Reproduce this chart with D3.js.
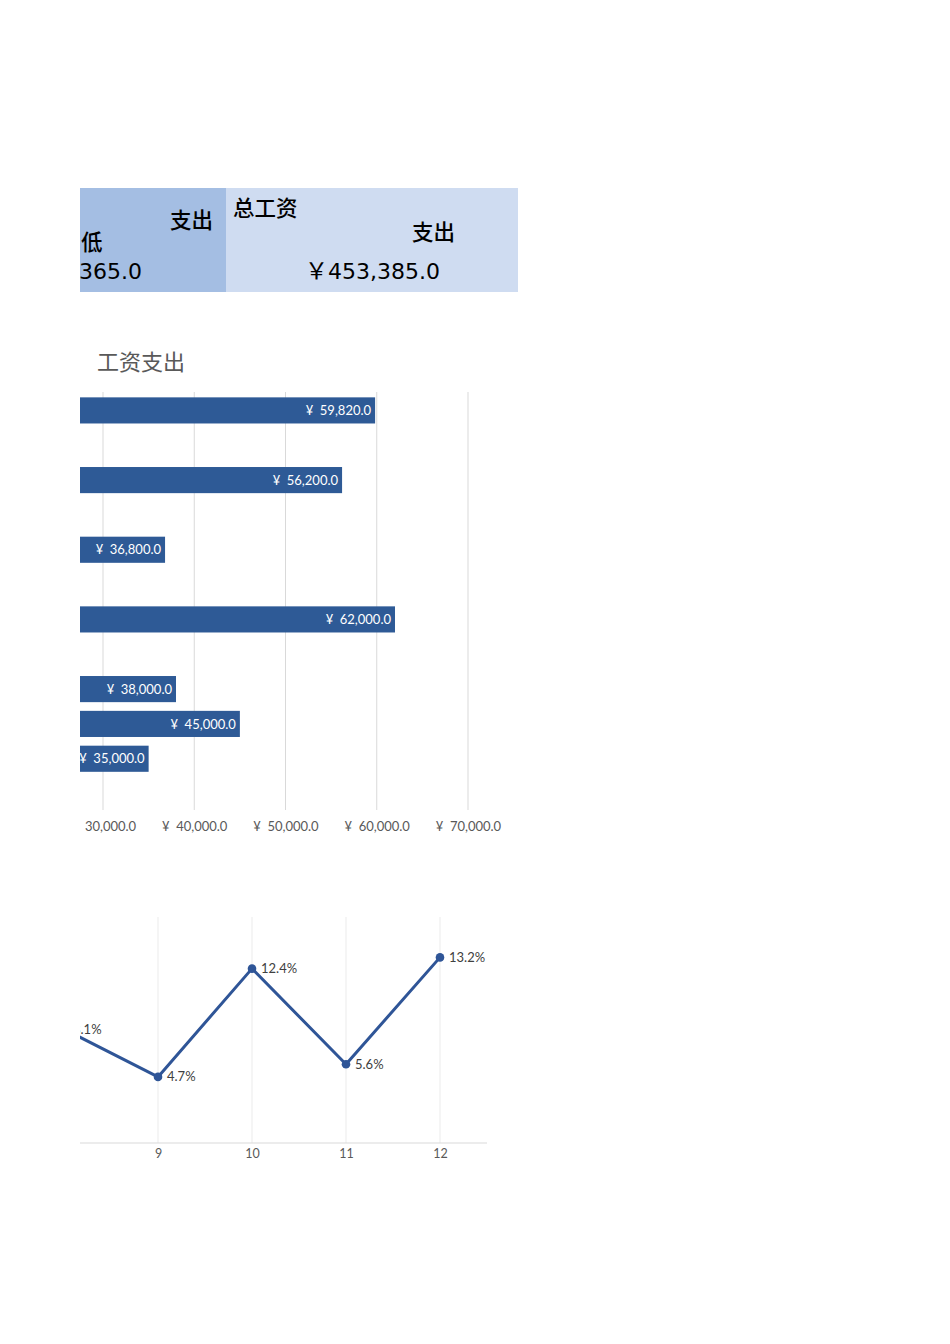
<!DOCTYPE html>
<html>
<head>
<meta charset="utf-8">
<script src="https://cdn.jsdelivr.net/npm/d3@7"></script>
<style>
  html, body { margin: 0; padding: 0; background: #fff; }
  svg { display: block; }
</style>
</head>
<body>
<svg width="950" height="1344"></svg>
<script>
// 数据
const barCategories = ['12', '11', '10', '9', '8', '7', '6', '5', '4', '3', '2', '1'];
const barValues = [59820, null, 56200, null, 36800, null, 62000, null, 38000, 45000, 35000, null];
const barTicks = [0, 10000, 20000, 30000, 40000, 50000, 60000, 70000];

const lineMonths = [8, 9, 10, 11, 12];
const lineValues = [8.1, 4.7, 12.4, 5.6, 13.2];

const summaryLowLabel = ['支出', '低'];
const summaryLowValue = '365.0';
const summaryTotalLabel = ['总工资', '支出'];
const summaryTotalValue = '453,385.0';

const svg = d3.select('svg');
const width = +svg.attr('width');
const height = +svg.attr('height');

// 页面左侧被裁掉
svg.append('defs').append('clipPath').attr('id', 'pageClip')
  .append('rect').attr('x', 80).attr('y', 0).attr('width', width - 80).attr('height', height);

const page = svg.append('g').attr('clip-path', 'url(#pageClip)');

const cjk = '"Noto Sans CJK SC", "Noto Sans", sans-serif';
const lato = 'Lato, "Open Sans", sans-serif';
const dejavu = '"DejaVu Sans", sans-serif';

// 顶部汇总单元格
page.append('rect').attr('x', 40).attr('y', 188).attr('width', 186).attr('height', 104).attr('fill', '#a4bee3');
page.append('rect').attr('x', 226).attr('y', 188).attr('width', 292).attr('height', 104).attr('fill', '#cfdcf1');

const cellText = (x, y, txt, anchor, font) => page.append('text')
  .attr('x', x).attr('y', y)
  .attr('text-anchor', anchor || 'start')
  .style('font-family', font || cjk)
  .style('font-size', '21.5px')
  .attr('fill', '#000')
  .text(txt);

cellText(213, 228, summaryLowLabel[0], 'end').style('font-weight', 500);
cellText(81, 250, summaryLowLabel[1]).style('font-weight', 500);
cellText(79, 279, summaryLowValue, 'start', dejavu).style('font-size', '22px');
cellText(233, 216, summaryTotalLabel[0]).style('font-weight', 500);
cellText(455, 240, summaryTotalLabel[1], 'end').style('font-weight', 500);

const total = page.append('text')
  .attr('x', 440).attr('y', 279)
  .attr('text-anchor', 'end')
  .style('font-size', '22px')
  .attr('fill', '#000');
total.append('tspan').style('font-family', cjk).style('font-size', '23px').text('￥');
total.append('tspan').style('font-family', dejavu).text(summaryTotalValue);

// 工资支出 条形图
page.append('text')
  .attr('x', 97).attr('y', 370)
  .style('font-family', cjk).style('font-size', '22px')
  .attr('fill', '#595959')
  .text('工资支出');

const xBar = d3.scaleLinear()
  .domain([0, 70000])
  .range([103 - 3 * 91.25, 468]);

const yBar = d3.scaleBand()
  .domain(barCategories)
  .range([393, 811])
  .paddingInner(0.25)
  .paddingOuter(0.125);

const barG = page.append('g');

barG.selectAll('line.grid')
  .data(barTicks)
  .enter().append('line')
    .attr('class', 'grid')
    .attr('x1', d => xBar(d)).attr('x2', d => xBar(d))
    .attr('y1', 392).attr('y2', 810)
    .attr('stroke', '#d9d9d9').attr('stroke-width', 1);

const barData = barCategories.map((c, i) => ({ c, v: barValues[i] })).filter(d => d.v != null);
const money = d => '¥\u2002' + d3.format(',.1f')(d);

barG.selectAll('rect.bar')
  .data(barData)
  .enter().append('rect')
    .attr('class', 'bar')
    .attr('x', xBar(0))
    .attr('y', d => yBar(d.c))
    .attr('width', d => xBar(d.v) - xBar(0))
    .attr('height', yBar.bandwidth())
    .attr('fill', '#2e5a96');

barG.selectAll('text.lbl')
  .data(barData)
  .enter().append('text')
    .attr('class', 'lbl')
    .attr('x', d => xBar(d.v) - 4)
    .attr('y', d => yBar(d.c) + yBar.bandwidth() / 2)
    .attr('dy', '0.36em')
    .attr('text-anchor', 'end')
    .style('font-family', lato).style('font-size', '13px')
    .attr('fill', '#fff')
    .text(d => money(d.v));

const xAxis = d3.axisBottom(xBar).tickValues(barTicks.filter(t => t >= 30000))
  .tickSize(0).tickPadding(0).tickFormat(money);
barG.append('g')
  .attr('transform', 'translate(0,819)')
  .call(xAxis)
  .call(g => g.select('.domain').remove())
  .call(g => g.selectAll('text')
    .attr('dy', '0.9em')
    .style('font-family', lato).style('font-size', '13px')
    .attr('fill', '#595959'));

// 折线图
const xLine = d3.scaleLinear().domain([8, 12]).range([64, 440]);
const yLine = d3.scaleLinear().domain([0, 16]).range([1143, 918]);

const lineG = page.append('g');

lineG.selectAll('line.grid')
  .data(lineMonths)
  .enter().append('line')
    .attr('class', 'grid')
    .attr('x1', d => xLine(d)).attr('x2', d => xLine(d))
    .attr('y1', 917).attr('y2', 1143)
    .attr('stroke', '#ebebeb').attr('stroke-width', 1);

lineG.append('line')
  .attr('x1', 60).attr('x2', 487)
  .attr('y1', 1143).attr('y2', 1143)
  .attr('stroke', '#d9d9d9').attr('stroke-width', 1.2);

lineG.append('g')
  .attr('transform', 'translate(0,1147)')
  .call(d3.axisBottom(xLine).tickValues(lineMonths.filter(m => m >= 9))
    .tickSize(0).tickPadding(0).tickFormat(d3.format('d')))
  .call(g => g.select('.domain').remove())
  .call(g => g.selectAll('text')
    .attr('dy', '0.9em')
    .style('font-family', lato).style('font-size', '12.5px')
    .attr('fill', '#595959'));

const pts = lineMonths.map((m, i) => ({ m, v: lineValues[i] }));

lineG.append('path')
  .datum(pts)
  .attr('fill', 'none')
  .attr('stroke', '#2f5597')
  .attr('stroke-width', 3)
  .attr('stroke-linejoin', 'round')
  .attr('d', d3.line().x(d => xLine(d.m)).y(d => yLine(d.v)));

lineG.selectAll('circle')
  .data(pts)
  .enter().append('circle')
    .attr('cx', d => xLine(d.m))
    .attr('cy', d => yLine(d.v))
    .attr('r', 4.3)
    .attr('fill', '#2f5597');

lineG.selectAll('text.val')
  .data(pts)
  .enter().append('text')
    .attr('class', 'val')
    .attr('x', d => xLine(d.m) + 9)
    .attr('y', d => yLine(d.v))
    .attr('dy', '0.35em')
    .style('font-family', lato).style('font-size', '13px')
    .attr('fill', '#404040')
    .text(d => d.v.toFixed(1) + '%');
</script>
</body>
</html>
